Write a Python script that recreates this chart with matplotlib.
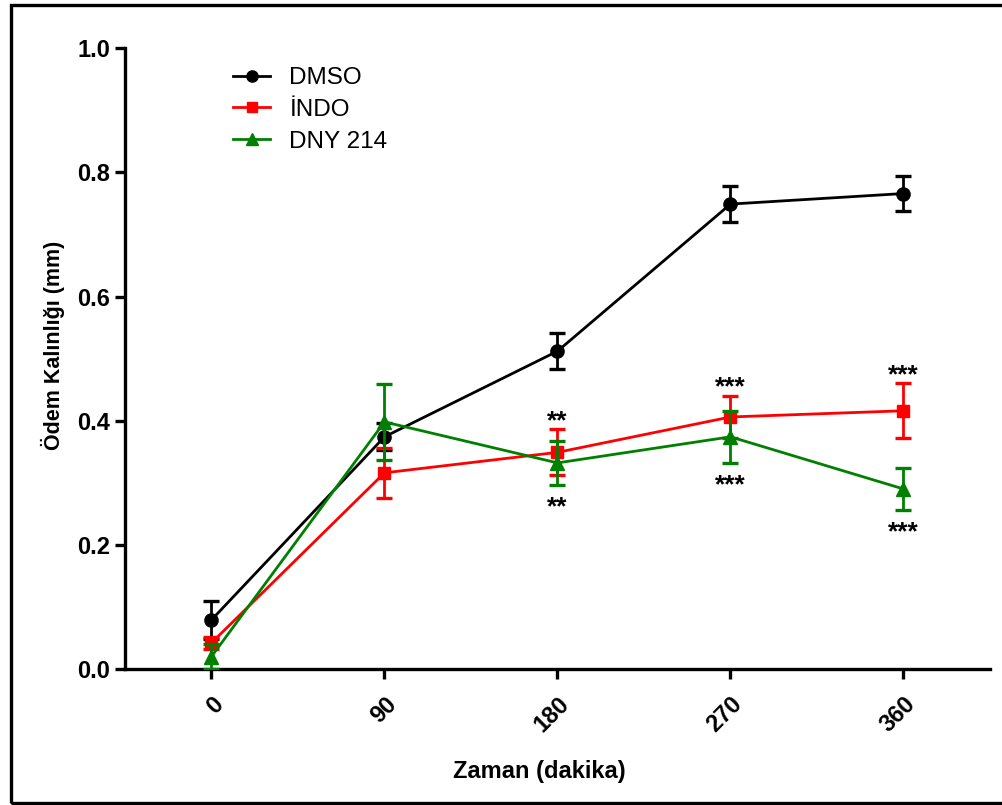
import matplotlib.pyplot as plt
import matplotlib.patches as patches

plt.rcParams['font.family'] = ['Liberation Sans', 'DejaVu Sans']

zaman = [0, 90, 180, 270, 360]

dmso = [0.079, 0.374, 0.512, 0.749, 0.766]
dmso_err = [0.030, 0.022, 0.029, 0.029, 0.028]

indo = [0.042, 0.316, 0.349, 0.406, 0.416]
indo_err = [0.010, 0.040, 0.037, 0.034, 0.044]

dny = [0.020, 0.398, 0.332, 0.374, 0.290]
dny_err = [0.020, 0.061, 0.036, 0.042, 0.034]

# anlamlilik isaretleri: (zaman, seri, metin, konum)
isaretler = [
    (180, 'indo', '**', 'ust'),
    (180, 'dny', '**', 'alt'),
    (270, 'indo', '***', 'ust'),
    (270, 'dny', '***', 'alt'),
    (360, 'indo', '***', 'ust'),
    (360, 'dny', '***', 'alt'),
]

fig = plt.figure(figsize=(10.03, 8.05), dpi=100)
ax = fig.add_axes([0.1246, 0.169, 0.8624, 0.771])

seriler = {
    'dmso': (dmso, dmso_err, 'black', 'o', 9.5, 'DMSO'),
    'indo': (indo, indo_err, '#ff0000', 's', 9, 'İNDO'),
    'dny': (dny, dny_err, '#008000', '^', 9.5, 'DNY 214'),
}

cizgiler = []
for i, (anahtar, (y, e, renk, mk, ms, etiket)) in enumerate(seriler.items()):
    c = ax.errorbar(zaman, y, yerr=e, color=renk, marker=mk, markersize=ms,
                    lw=2.0, elinewidth=2.0, capsize=5.5, capthick=2.4,
                    label=etiket, zorder=3 + i)
    cizgiler.append(c[0])

for x, anahtar, metin, konum in isaretler:
    y, e = seriler[anahtar][0], seriler[anahtar][1]
    i = zaman.index(x)
    if konum == 'ust':
        ax.annotate(metin, (x, y[i] + e[i]), xytext=(0, 1), textcoords='offset points',
                    ha='center', va='baseline', fontsize=19, fontweight='bold')
    else:
        ax.annotate(metin, (x, y[i] - e[i]), xytext=(0, -21), textcoords='offset points',
                    ha='center', va='baseline', fontsize=19, fontweight='bold')

ax.set_xlim(-45, 405)
ax.set_ylim(0, 1.0)
ax.set_xticks(zaman)
ax.set_yticks([0.0, 0.2, 0.4, 0.6, 0.8, 1.0])
ax.set_yticklabels(['0.0', '0.2', '0.4', '0.6', '0.8', '1.0'])

for s in ['top', 'right']:
    ax.spines[s].set_visible(False)
for s in ['left', 'bottom']:
    ax.spines[s].set_linewidth(2.4)

ax.tick_params(axis='both', direction='out', length=7, width=2.4, labelsize=17)
ax.tick_params(axis='x', pad=10)
for t in ax.get_yticklabels():
    t.set_fontweight('bold')
for t in ax.get_xticklabels():
    t.set_fontweight('bold')
    t.set_rotation(45)
    t.set_ha('right')
    t.set_rotation_mode('anchor')

ax.set_xlabel('Zaman (dakika)', fontsize=17, fontweight='bold')
ax.set_ylabel('Ödem Kalınlığı (mm)', fontsize=15.5, fontweight='bold')
ax.xaxis.set_label_coords(0.479, -0.147)
ax.yaxis.set_label_coords(-0.069, 0.522)

ax.legend(cizgiler, [v[5] for v in seriler.values()],
          loc='upper left', bbox_to_anchor=(0.1, 1.005), frameon=False,
          fontsize=17.5, handlelength=1.5, markerscale=0.85, labelspacing=0.4,
          handletextpad=0.8)

# figur cercevesi
fig.patches.append(patches.Rectangle((11 / 1003, 2 / 805), 1.2, 1 - 7 / 805,
                                     transform=fig.transFigure, fill=False,
                                     edgecolor='black', lw=2.4))

fig.savefig('out.png', dpi=100)
